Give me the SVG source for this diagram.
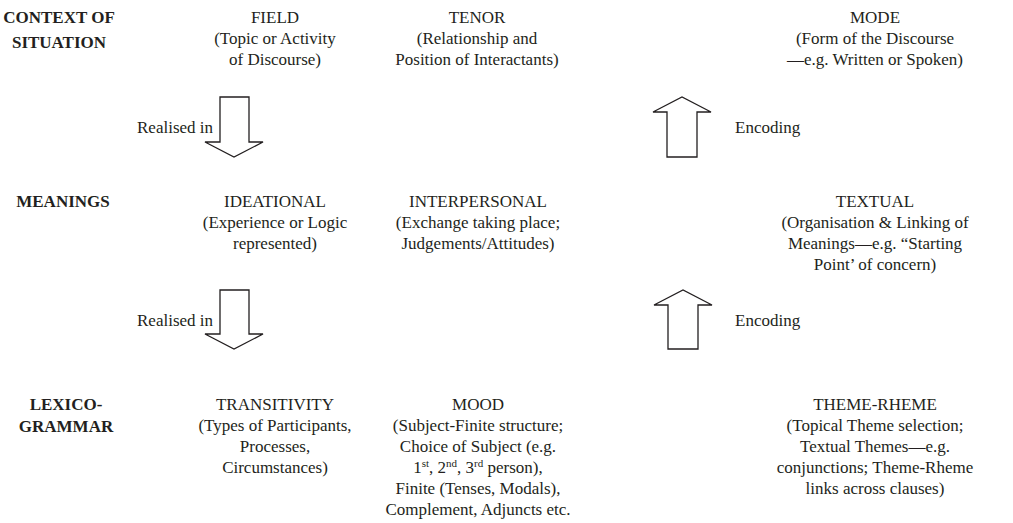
<svg xmlns="http://www.w3.org/2000/svg" width="1013" height="523" viewBox="0 0 1013 523">
  <style>
    text { font-family: "Liberation Serif", "Times New Roman", serif; font-size: 17px; fill: #231f20; }
    .c { text-anchor: middle; }
    .h { font-weight: bold; text-anchor: middle; }
    .sup { font-size: 11px; }
    .arrow { fill: #ffffff; stroke: #231f20; stroke-width: 1.3; stroke-linejoin: miter; }
  </style>
  <rect width="1013" height="523" fill="#ffffff"/>

  <!-- row headings -->
  <g id="context-of-situation">
    <text class="h" x="59" y="23">CONTEXT OF</text>
    <text class="h" x="59" y="48">SITUATION</text>
  </g>
  <g id="meanings">
    <text class="h" x="63" y="207">MEANINGS</text>
  </g>
  <g id="lexico-grammar">
    <text class="h" x="66" y="410">LEXICO-</text>
    <text class="h" x="66" y="432">GRAMMAR</text>
  </g>

  <!-- context of situation -->
  <g id="field">
    <text class="c" x="275" y="23">FIELD</text>
    <text class="c" x="275" y="44">(Topic or Activity</text>
    <text class="c" x="275" y="65">of Discourse)</text>
  </g>
  <g id="tenor">
    <text class="c" x="477" y="23">TENOR</text>
    <text class="c" x="477" y="44">(Relationship and</text>
    <text class="c" x="477" y="65">Position of Interactants)</text>
  </g>
  <g id="mode">
    <text class="c" x="875" y="23">MODE</text>
    <text class="c" x="875" y="44">(Form of the Discourse</text>
    <text class="c" x="875" y="65">—e.g. Written or Spoken)</text>
  </g>

  <!-- meanings -->
  <g id="ideational">
    <text class="c" x="275" y="207">IDEATIONAL</text>
    <text class="c" x="275" y="228">(Experience or Logic</text>
    <text class="c" x="275" y="249">represented)</text>
  </g>
  <g id="interpersonal">
    <text class="c" x="478" y="207">INTERPERSONAL</text>
    <text class="c" x="478" y="228">(Exchange taking place;</text>
    <text class="c" x="478" y="249">Judgements/Attitudes)</text>
  </g>
  <g id="textual">
    <text class="c" x="875" y="207">TEXTUAL</text>
    <text class="c" x="875" y="228">(Organisation &amp; Linking of</text>
    <text class="c" x="875" y="249">Meanings—e.g. “Starting</text>
    <text class="c" x="875" y="270">Point’ of concern)</text>
  </g>

  <!-- lexico-grammar -->
  <g id="transitivity">
    <text class="c" x="275" y="410">TRANSITIVITY</text>
    <text class="c" x="275" y="431">(Types of Participants,</text>
    <text class="c" x="275" y="452">Processes,</text>
    <text class="c" x="275" y="473">Circumstances)</text>
  </g>
  <g id="mood">
    <text class="c" x="478" y="410">MOOD</text>
    <text class="c" x="478" y="431">(Subject-Finite structure;</text>
    <text class="c" x="478" y="452">Choice of Subject (e.g.</text>
    <text class="c" x="478" y="473">1<tspan class="sup" dy="-6">st</tspan><tspan dy="6">, 2</tspan><tspan class="sup" dy="-6">nd</tspan><tspan dy="6">, 3</tspan><tspan class="sup" dy="-6">rd</tspan><tspan dy="6"> person),</tspan></text>
    <text class="c" x="478" y="494">Finite (Tenses, Modals),</text>
    <text class="c" x="478" y="515">Complement, Adjuncts etc.</text>
  </g>
  <g id="theme-rheme">
    <text class="c" x="875" y="410">THEME-RHEME</text>
    <text class="c" x="875" y="431">(Topical Theme selection;</text>
    <text class="c" x="875" y="452">Textual Themes—e.g.</text>
    <text class="c" x="875" y="473">conjunctions; Theme-Rheme</text>
    <text class="c" x="875" y="494">links across clauses)</text>
  </g>

  <!-- block arrows between the strata, with their labels -->
  <g id="connectors">
    <polygon class="arrow" points="220,97 249,97 249,142 263,142 234,157 205,142 220,142"/>
    <text x="137" y="133">Realised in</text>
    <polygon class="arrow" points="667,157 697,157 697,112 711,112 682,97 653,112 667,112"/>
    <text x="735" y="133">Encoding</text>
    <polygon class="arrow" points="220,290 249,290 249,334 263,334 234,349 205,334 220,334"/>
    <text x="137" y="326">Realised in</text>
    <polygon class="arrow" points="668,349 698,349 698,305 712,305 683,290 654,305 668,305"/>
    <text x="735" y="326">Encoding</text>
  </g>
</svg>
